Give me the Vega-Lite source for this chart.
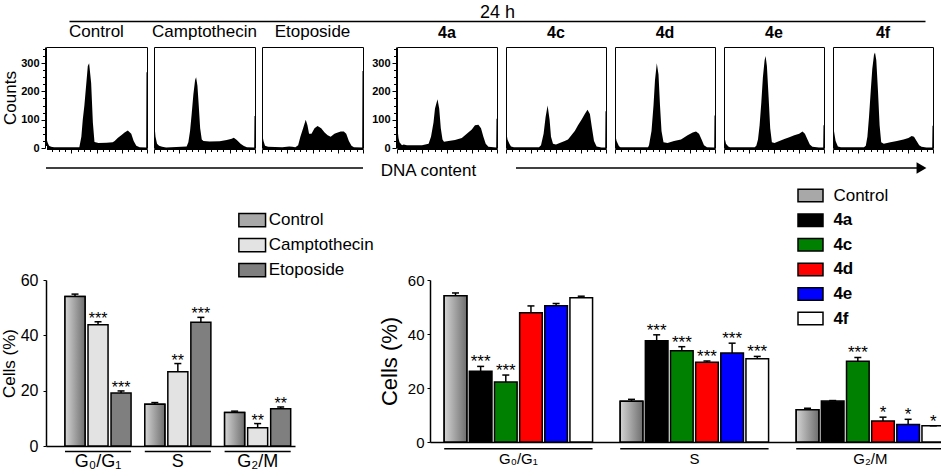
{
  "$schema": "https://vega.github.io/schema/vega-lite/v6.json",
  "background": "white",
  "padding": {"top": 3, "left": 0, "right": 0, "bottom": 0},
  "columns": 1,
  "align": "none",
  "spacing": -8,
  "resolve": {"scale": {"color": "independent", "xOffset": "independent", "x": "independent", "y": "independent"}, "legend": {"color": "independent"}},
  "config": {
    "font": "Liberation Sans",
    "view": {"stroke": null},
    "axis": {"grid": false, "labelColor": "black", "titleColor": "black", "domainColor": "black", "tickColor": "black"},
    "legend": {"labelColor": "black"},
    "text": {"color": "black"},
    "header": {"labelColor": "black"}
  },
  "datasets": {
    "hist": [
      {"p": "Control", "x": 0, "c": 40}, {"p": "Control", "x": 1.5, "c": 20}, {"p": "Control", "x": 3, "c": 8}, {"p": "Control", "x": 5, "c": 4}, {"p": "Control", "x": 8, "c": 3}, {"p": "Control", "x": 33, "c": 3}, {"p": "Control", "x": 35, "c": 40}, {"p": "Control", "x": 36.4, "c": 100}, {"p": "Control", "x": 38, "c": 150}, {"p": "Control", "x": 39.7, "c": 220}, {"p": "Control", "x": 41.4, "c": 290}, {"p": "Control", "x": 42.7, "c": 300}, {"p": "Control", "x": 44.7, "c": 230}, {"p": "Control", "x": 46.4, "c": 90}, {"p": "Control", "x": 48, "c": 21}, {"p": "Control", "x": 52, "c": 18}, {"p": "Control", "x": 60, "c": 19}, {"p": "Control", "x": 66, "c": 20}, {"p": "Control", "x": 68, "c": 25}, {"p": "Control", "x": 71, "c": 35}, {"p": "Control", "x": 74.5, "c": 45}, {"p": "Control", "x": 77.8, "c": 55}, {"p": "Control", "x": 81, "c": 62}, {"p": "Control", "x": 84.4, "c": 50}, {"p": "Control", "x": 86.8, "c": 25}, {"p": "Control", "x": 89.4, "c": 8}, {"p": "Control", "x": 92.7, "c": 3}, {"p": "Control", "x": 99.2, "c": 2}, {"p": "Control", "x": 99.5, "c": 268}, {"p": "Control", "x": 100, "c": 268},
      {"p": "Camptothecin", "x": 0, "c": 101}, {"p": "Camptothecin", "x": 1.5, "c": 40}, {"p": "Camptothecin", "x": 3, "c": 15}, {"p": "Camptothecin", "x": 5, "c": 8}, {"p": "Camptothecin", "x": 8, "c": 4}, {"p": "Camptothecin", "x": 12, "c": 2}, {"p": "Camptothecin", "x": 32.3, "c": 5}, {"p": "Camptothecin", "x": 34, "c": 20}, {"p": "Camptothecin", "x": 35.7, "c": 60}, {"p": "Camptothecin", "x": 37.3, "c": 120}, {"p": "Camptothecin", "x": 39, "c": 190}, {"p": "Camptothecin", "x": 40.7, "c": 240}, {"p": "Camptothecin", "x": 41.7, "c": 250}, {"p": "Camptothecin", "x": 43, "c": 220}, {"p": "Camptothecin", "x": 44.3, "c": 150}, {"p": "Camptothecin", "x": 45.7, "c": 70}, {"p": "Camptothecin", "x": 47.3, "c": 30}, {"p": "Camptothecin", "x": 49, "c": 25}, {"p": "Camptothecin", "x": 55, "c": 23}, {"p": "Camptothecin", "x": 65, "c": 24}, {"p": "Camptothecin", "x": 72, "c": 28}, {"p": "Camptothecin", "x": 77, "c": 33}, {"p": "Camptothecin", "x": 79, "c": 36}, {"p": "Camptothecin", "x": 82, "c": 28}, {"p": "Camptothecin", "x": 85.7, "c": 15}, {"p": "Camptothecin", "x": 89, "c": 7}, {"p": "Camptothecin", "x": 92, "c": 3}, {"p": "Camptothecin", "x": 99.2, "c": 2}, {"p": "Camptothecin", "x": 99.5, "c": 113}, {"p": "Camptothecin", "x": 100, "c": 113},
      {"p": "Etoposide", "x": 0, "c": 54}, {"p": "Etoposide", "x": 1.5, "c": 25}, {"p": "Etoposide", "x": 3, "c": 8}, {"p": "Etoposide", "x": 6, "c": 4}, {"p": "Etoposide", "x": 20, "c": 3}, {"p": "Etoposide", "x": 27, "c": 5}, {"p": "Etoposide", "x": 30, "c": 4}, {"p": "Etoposide", "x": 33, "c": 3}, {"p": "Etoposide", "x": 35.8, "c": 10}, {"p": "Etoposide", "x": 38, "c": 40}, {"p": "Etoposide", "x": 40.7, "c": 70}, {"p": "Etoposide", "x": 43.3, "c": 100}, {"p": "Etoposide", "x": 45, "c": 80}, {"p": "Etoposide", "x": 46.6, "c": 50}, {"p": "Etoposide", "x": 49, "c": 50}, {"p": "Etoposide", "x": 52, "c": 70}, {"p": "Etoposide", "x": 55, "c": 78}, {"p": "Etoposide", "x": 58.6, "c": 70}, {"p": "Etoposide", "x": 62, "c": 55}, {"p": "Etoposide", "x": 65, "c": 45}, {"p": "Etoposide", "x": 68, "c": 40}, {"p": "Etoposide", "x": 71.7, "c": 50}, {"p": "Etoposide", "x": 75, "c": 55}, {"p": "Etoposide", "x": 78, "c": 58}, {"p": "Etoposide", "x": 81, "c": 58}, {"p": "Etoposide", "x": 83.4, "c": 50}, {"p": "Etoposide", "x": 86, "c": 25}, {"p": "Etoposide", "x": 88.6, "c": 8}, {"p": "Etoposide", "x": 91, "c": 3}, {"p": "Etoposide", "x": 99.2, "c": 2}, {"p": "Etoposide", "x": 99.5, "c": 272}, {"p": "Etoposide", "x": 100, "c": 272},
      {"p": "4a", "x": 0, "c": 86}, {"p": "4a", "x": 1.5, "c": 35}, {"p": "4a", "x": 2.5, "c": 20}, {"p": "4a", "x": 5, "c": 10}, {"p": "4a", "x": 6.6, "c": 12}, {"p": "4a", "x": 10, "c": 10}, {"p": "4a", "x": 25, "c": 10}, {"p": "4a", "x": 31.6, "c": 15}, {"p": "4a", "x": 34, "c": 40}, {"p": "4a", "x": 36.5, "c": 90}, {"p": "4a", "x": 38, "c": 140}, {"p": "4a", "x": 40.5, "c": 172}, {"p": "4a", "x": 42.2, "c": 140}, {"p": "4a", "x": 43.8, "c": 70}, {"p": "4a", "x": 45.5, "c": 30}, {"p": "4a", "x": 47, "c": 22}, {"p": "4a", "x": 51.5, "c": 25}, {"p": "4a", "x": 58, "c": 28}, {"p": "4a", "x": 64.8, "c": 35}, {"p": "4a", "x": 69.8, "c": 50}, {"p": "4a", "x": 74.8, "c": 65}, {"p": "4a", "x": 78, "c": 80}, {"p": "4a", "x": 81.4, "c": 82}, {"p": "4a", "x": 84, "c": 70}, {"p": "4a", "x": 86.4, "c": 40}, {"p": "4a", "x": 88.7, "c": 15}, {"p": "4a", "x": 91.4, "c": 4}, {"p": "4a", "x": 99.2, "c": 2}, {"p": "4a", "x": 99.5, "c": 103}, {"p": "4a", "x": 100, "c": 103},
      {"p": "4c", "x": 0, "c": 62}, {"p": "4c", "x": 1.5, "c": 30}, {"p": "4c", "x": 3.4, "c": 15}, {"p": "4c", "x": 5, "c": 5}, {"p": "4c", "x": 8, "c": 3}, {"p": "4c", "x": 33, "c": 3}, {"p": "4c", "x": 35, "c": 10}, {"p": "4c", "x": 37.6, "c": 50}, {"p": "4c", "x": 39.6, "c": 110}, {"p": "4c", "x": 41.6, "c": 150}, {"p": "4c", "x": 43.6, "c": 100}, {"p": "4c", "x": 45, "c": 40}, {"p": "4c", "x": 47, "c": 15}, {"p": "4c", "x": 50, "c": 12}, {"p": "4c", "x": 53.7, "c": 18}, {"p": "4c", "x": 58.7, "c": 25}, {"p": "4c", "x": 62, "c": 30}, {"p": "4c", "x": 65.4, "c": 45}, {"p": "4c", "x": 68.8, "c": 60}, {"p": "4c", "x": 72, "c": 80}, {"p": "4c", "x": 75.5, "c": 100}, {"p": "4c", "x": 78.8, "c": 120}, {"p": "4c", "x": 81.5, "c": 135}, {"p": "4c", "x": 83.9, "c": 120}, {"p": "4c", "x": 86, "c": 70}, {"p": "4c", "x": 88, "c": 25}, {"p": "4c", "x": 90.6, "c": 5}, {"p": "4c", "x": 95.6, "c": 2}, {"p": "4c", "x": 99.2, "c": 2}, {"p": "4c", "x": 99.5, "c": 130}, {"p": "4c", "x": 100, "c": 130},
      {"p": "4d", "x": 0, "c": 50}, {"p": "4d", "x": 1.6, "c": 25}, {"p": "4d", "x": 4, "c": 6}, {"p": "4d", "x": 5.5, "c": 3}, {"p": "4d", "x": 33, "c": 3}, {"p": "4d", "x": 34, "c": 10}, {"p": "4d", "x": 36.5, "c": 60}, {"p": "4d", "x": 38.5, "c": 150}, {"p": "4d", "x": 40, "c": 240}, {"p": "4d", "x": 41.8, "c": 300}, {"p": "4d", "x": 43.5, "c": 260}, {"p": "4d", "x": 45, "c": 150}, {"p": "4d", "x": 46.5, "c": 60}, {"p": "4d", "x": 48.5, "c": 20}, {"p": "4d", "x": 52.5, "c": 18}, {"p": "4d", "x": 59, "c": 25}, {"p": "4d", "x": 66, "c": 30}, {"p": "4d", "x": 72.6, "c": 45}, {"p": "4d", "x": 77.7, "c": 55}, {"p": "4d", "x": 81, "c": 58}, {"p": "4d", "x": 84, "c": 50}, {"p": "4d", "x": 86.6, "c": 30}, {"p": "4d", "x": 89, "c": 10}, {"p": "4d", "x": 92, "c": 3}, {"p": "4d", "x": 99.2, "c": 2}, {"p": "4d", "x": 99.5, "c": 115}, {"p": "4d", "x": 100, "c": 115},
      {"p": "4e", "x": 0, "c": 45}, {"p": "4e", "x": 2, "c": 15}, {"p": "4e", "x": 4.3, "c": 5}, {"p": "4e", "x": 6, "c": 3}, {"p": "4e", "x": 30.7, "c": 3}, {"p": "4e", "x": 32.3, "c": 8}, {"p": "4e", "x": 34, "c": 30}, {"p": "4e", "x": 35.6, "c": 80}, {"p": "4e", "x": 37.3, "c": 160}, {"p": "4e", "x": 38.9, "c": 250}, {"p": "4e", "x": 40.6, "c": 310}, {"p": "4e", "x": 41.6, "c": 325}, {"p": "4e", "x": 42.9, "c": 290}, {"p": "4e", "x": 44.6, "c": 180}, {"p": "4e", "x": 46.2, "c": 70}, {"p": "4e", "x": 47.9, "c": 20}, {"p": "4e", "x": 50.5, "c": 18}, {"p": "4e", "x": 55.4, "c": 25}, {"p": "4e", "x": 60.4, "c": 32}, {"p": "4e", "x": 65.3, "c": 38}, {"p": "4e", "x": 70.3, "c": 45}, {"p": "4e", "x": 75.2, "c": 50}, {"p": "4e", "x": 78.5, "c": 58}, {"p": "4e", "x": 80.9, "c": 50}, {"p": "4e", "x": 83.5, "c": 30}, {"p": "4e", "x": 85.8, "c": 12}, {"p": "4e", "x": 88.4, "c": 4}, {"p": "4e", "x": 95, "c": 2}, {"p": "4e", "x": 99.2, "c": 2}, {"p": "4e", "x": 99.5, "c": 80}, {"p": "4e", "x": 100, "c": 80},
      {"p": "4f", "x": 0, "c": 81}, {"p": "4f", "x": 2.6, "c": 25}, {"p": "4f", "x": 4.9, "c": 5}, {"p": "4f", "x": 8, "c": 3}, {"p": "4f", "x": 31, "c": 3}, {"p": "4f", "x": 32.8, "c": 8}, {"p": "4f", "x": 34.4, "c": 40}, {"p": "4f", "x": 36, "c": 110}, {"p": "4f", "x": 37.7, "c": 200}, {"p": "4f", "x": 39.3, "c": 280}, {"p": "4f", "x": 41, "c": 330}, {"p": "4f", "x": 42, "c": 338}, {"p": "4f", "x": 43.3, "c": 310}, {"p": "4f", "x": 45, "c": 200}, {"p": "4f", "x": 46.6, "c": 80}, {"p": "4f", "x": 48.2, "c": 20}, {"p": "4f", "x": 50.8, "c": 15}, {"p": "4f", "x": 57.4, "c": 20}, {"p": "4f", "x": 63.9, "c": 25}, {"p": "4f", "x": 70.5, "c": 30}, {"p": "4f", "x": 75.4, "c": 35}, {"p": "4f", "x": 78.7, "c": 42}, {"p": "4f", "x": 81, "c": 40}, {"p": "4f", "x": 83.6, "c": 25}, {"p": "4f", "x": 86.2, "c": 10}, {"p": "4f", "x": 88.5, "c": 4}, {"p": "4f", "x": 93.4, "c": 2}, {"p": "4f", "x": 99.2, "c": 2}, {"p": "4f", "x": 99.5, "c": 79}, {"p": "4f", "x": 100, "c": 79}
    ],
    "left": [
      {"ph": "G₀/G₁", "t": "Control", "v": 54.0, "e": 54.9, "s": ""},
      {"ph": "G₀/G₁", "t": "Camptothecin", "v": 43.8, "e": 44.9, "s": "***"},
      {"ph": "G₀/G₁", "t": "Etoposide", "v": 19.2, "e": 19.9, "s": "***"},
      {"ph": "S", "t": "Control", "v": 15.1, "e": 15.7, "s": ""},
      {"ph": "S", "t": "Camptothecin", "v": 26.8, "e": 29.8, "s": "**"},
      {"ph": "S", "t": "Etoposide", "v": 44.7, "e": 46.5, "s": "***"},
      {"ph": "G₂/M", "t": "Control", "v": 12.1, "e": 12.6, "s": ""},
      {"ph": "G₂/M", "t": "Camptothecin", "v": 6.6, "e": 8.1, "s": "**"},
      {"ph": "G₂/M", "t": "Etoposide", "v": 13.5, "e": 14.1, "s": "**"}
    ],
    "right": [
      {"ph": "G₀/G₁", "t": "Control", "v": 54.2, "e": 55.2, "s": ""},
      {"ph": "G₀/G₁", "t": "4a", "v": 26.2, "e": 28.0, "s": "***"},
      {"ph": "G₀/G₁", "t": "4c", "v": 22.2, "e": 24.8, "s": "***"},
      {"ph": "G₀/G₁", "t": "4d", "v": 47.9, "e": 50.4, "s": ""},
      {"ph": "G₀/G₁", "t": "4e", "v": 50.5, "e": 51.3, "s": ""},
      {"ph": "G₀/G₁", "t": "4f", "v": 53.4, "e": 54.0, "s": ""},
      {"ph": "S", "t": "Control", "v": 15.1, "e": 15.8, "s": ""},
      {"ph": "S", "t": "4a", "v": 37.5, "e": 39.7, "s": "***"},
      {"ph": "S", "t": "4c", "v": 33.8, "e": 35.3, "s": "***"},
      {"ph": "S", "t": "4d", "v": 29.5, "e": 30.0, "s": "***"},
      {"ph": "S", "t": "4e", "v": 33.0, "e": 36.6, "s": "***"},
      {"ph": "S", "t": "4f", "v": 30.8, "e": 31.7, "s": "***"},
      {"ph": "G₂/M", "t": "Control", "v": 11.95, "e": 12.5, "s": ""},
      {"ph": "G₂/M", "t": "4a", "v": 15.15, "e": 15.35, "s": ""},
      {"ph": "G₂/M", "t": "4c", "v": 29.9, "e": 31.3, "s": "***"},
      {"ph": "G₂/M", "t": "4d", "v": 7.8, "e": 9.2, "s": "*"},
      {"ph": "G₂/M", "t": "4e", "v": 6.5, "e": 8.4, "s": "*"},
      {"ph": "G₂/M", "t": "4f", "v": 6.0, "e": 6.0, "s": "*"}
    ]
  },
  "concat": [
    {
      "spacing": 0,
      "hconcat": [
        {"width": 20, "height": 1, "data": {"values": [{}]}, "mark": {"type": "text", "text": ""}, "view": {"fill": "white", "stroke": null}},
        {
          "width": 856, "height": 1,
          "data": {"values": [{"v": 0}, {"v": 1}]},
          "mark": {"type": "point", "opacity": 0},
          "encoding": {
            "x": {"field": "v", "type": "quantitative", "scale": {"domain": [0, 1], "nice": false},
              "axis": {"orient": "top", "title": "24 h", "titleFontSize": 18, "titleFontWeight": "normal", "titlePadding": 0, "labels": false, "ticks": false, "domainWidth": 1.5}}
          }
        }
      ]
    },
    {"width": 1, "height": 10.5, "data": {"values": [{}]}, "mark": {"type": "text", "text": ""}, "view": {"fill": "white", "stroke": null}},
    {
      "spacing": 7,
      "hconcat": [
        {
          "data": {"name": "hist"},
          "transform": [{"filter": "indexof(['Control','Camptothecin','Etoposide'], datum.p) >= 0"}],
          "facet": {"column": {"field": "p", "type": "nominal", "sort": ["Control", "Camptothecin", "Etoposide"],
            "header": {"title": null, "labelFontSize": 17, "labelPadding": 5, "labelFontWeight": "normal"}}},
          "spacing": 5,
          "spec": {
            "width": 101, "height": 101,
            "view": {"stroke": "black", "strokeWidth": 1},
            "mark": {"type": "area", "color": "black", "interpolate": "linear"},
            "encoding": {
              "x": {"field": "x", "type": "quantitative", "scale": {"domain": [0, 100], "nice": false},
                "axis": {"title": null, "labels": false, "values": [0, 6.25, 12.5, 18.75, 25, 31.25, 37.5, 43.75, 50, 56.25, 62.5, 68.75, 75, 81.25, 87.5, 93.75, 100],
                  "tickSize": {"condition": {"test": "datum.value % 25 === 0", "value": 4}, "value": 2.5}}},
              "y": {"field": "c", "type": "quantitative", "stack": null, "scale": {"domain": [0, 357], "nice": false},
                "axis": {"title": "Counts", "titleFontSize": 17, "titleFontWeight": "normal", "titlePadding": 1,
                  "values": [0, 25, 50, 75, 100, 125, 150, 175, 200, 225, 250, 275, 300, 325, 350],
                  "labelExpr": "datum.value % 100 === 0 ? datum.label : ''", "labelFontSize": 11, "labelFontWeight": "bold", "labelPadding": 2,
                  "tickSize": {"condition": {"test": "datum.value % 100 === 0", "value": 4}, "value": 2.5}}}
            }
          }
        },
        {
          "data": {"name": "hist"},
          "transform": [{"filter": "indexof(['4a','4c','4d','4e','4f'], datum.p) >= 0"}],
          "facet": {"column": {"field": "p", "type": "nominal", "sort": ["4a", "4c", "4d", "4e", "4f"],
            "header": {"title": null, "labelFontSize": 16, "labelPadding": 5, "labelFontWeight": "bold"}}},
          "spacing": 7,
          "spec": {
            "width": 100, "height": 101,
            "view": {"stroke": "black", "strokeWidth": 1},
            "mark": {"type": "area", "color": "black", "interpolate": "linear"},
            "encoding": {
              "x": {"field": "x", "type": "quantitative", "scale": {"domain": [0, 100], "nice": false},
                "axis": {"title": null, "labels": false, "values": [0, 6.25, 12.5, 18.75, 25, 31.25, 37.5, 43.75, 50, 56.25, 62.5, 68.75, 75, 81.25, 87.5, 93.75, 100],
                  "tickSize": {"condition": {"test": "datum.value % 25 === 0", "value": 4}, "value": 2.5}}},
              "y": {"field": "c", "type": "quantitative", "stack": null, "scale": {"domain": [0, 357], "nice": false},
                "axis": {"title": null,
                  "values": [0, 25, 50, 75, 100, 125, 150, 175, 200, 225, 250, 275, 300, 325, 350],
                  "labelExpr": "datum.value % 100 === 0 ? datum.label : ''", "labelFontSize": 11, "labelFontWeight": "bold", "labelPadding": 2,
                  "tickSize": {"condition": {"test": "datum.value % 100 === 0", "value": 4}, "value": 2.5}}}
            }
          }
        }
      ]
    },
    {"width": 1, "height": 23, "data": {"values": [{}]}, "mark": {"type": "text", "text": ""}, "view": {"fill": "white", "stroke": null}},
    {
      "spacing": 0,
      "hconcat": [
        {
          "width": 317, "height": 1, "data": {"values": [{}]},
          "mark": {"type": "rule", "color": "black", "strokeWidth": 1.5},
          "encoding": {
            "x": {"datum": 0, "type": "quantitative", "scale": {"domain": [0, 1]}, "axis": null},
            "x2": {"datum": 1},
            "y": {"datum": 0, "type": "quantitative", "scale": {"domain": [0, 1]}, "axis": null}
          }
        },
        {
          "width": 151, "height": 1, "data": {"values": [{"t": "DNA content"}]},
          "mark": {"type": "text", "fontSize": 17, "dx": -11, "dy": 3, "baseline": "middle"},
          "encoding": {"text": {"field": "t"}}
        },
        {
          "width": 411, "height": 1, "data": {"values": [{}]},
          "layer": [
            {
              "mark": {"type": "rule", "color": "black", "strokeWidth": 1.5},
              "encoding": {
                "x": {"datum": 0, "type": "quantitative", "scale": {"domain": [0, 1]}, "axis": null},
                "x2": {"datum": 0.98},
                "y": {"datum": 0, "type": "quantitative", "scale": {"domain": [0, 1]}, "axis": null}
              }
            },
            {
              "mark": {"type": "point", "shape": "triangle-right", "filled": true, "color": "black", "size": 130, "opacity": 1, "xOffset": -5.5},
              "encoding": {
                "x": {"datum": 1, "type": "quantitative"},
                "y": {"datum": 0, "type": "quantitative"}
              }
            }
          ]
        }
      ]
    },
    {"width": 1, "height": 18.5, "data": {"values": [{}]}, "mark": {"type": "text", "text": ""}, "view": {"fill": "white", "stroke": null}},
    {
      "spacing": 4,
      "resolve": {"scale": {"color": "independent", "xOffset": "independent", "x": "independent", "y": "independent"}, "legend": {"color": "independent"}},
      "hconcat": [
        {
          "width": 249, "height": 166,
          "data": {"name": "left"},
          "encoding": {
            "x": {"field": "ph", "type": "nominal", "sort": ["G₀/G₁", "S", "G₂/M"],
              "scale": {"paddingInner": 0.172, "paddingOuter": 0.146, "align": 0.815},
              "axis": {"title": null, "labelAngle": 0, "labelFontSize": 18, "labelPadding": 6, "ticks": false, "tickSize": 0, "domainWidth": 1.5}}
          },
          "layer": [
            {
              "mark": {"type": "bar", "stroke": "black", "strokeWidth": 1.5},
              "encoding": {
                "xOffset": {"field": "t", "type": "nominal", "sort": ["Control", "Camptothecin", "Etoposide"], "scale": {"paddingInner": 0.13}},
                "y": {"field": "v", "type": "quantitative", "title": "Cells (%)", "scale": {"domain": [0, 60], "nice": false},
                  "axis": {"values": [0, 10, 20, 30, 40, 50, 60], "labelFontSize": 16, "labelPadding": 5, "tickSize": 3, "domainWidth": 1.5, "titleFontSize": 17, "titleFontWeight": "normal", "titlePadding": 2}},
                "color": {"field": "t", "type": "nominal", "sort": ["Control", "Camptothecin", "Etoposide"],
                  "scale": {"domain": ["Control", "Camptothecin", "Etoposide"], "range": ["#a8a8a8", "#e3e3e3", "#7f7f7f"]},
                  "legend": {"orient": "none", "legendX": 191.7, "legendY": -74.4, "title": null, "padding": 0,
                    "symbolType": "M-1,-0.5H1V0.5H-1Z", "symbolSize": 713, "symbolStrokeColor": "black", "symbolStrokeWidth": 1.5, "symbolOpacity": 1,
                    "labelFontSize": 17, "labelOffset": 2, "rowPadding": -3.8,
                    "encode": {"symbols": {"update": {
                      "fill": [
                        {"test": "datum.value === 'Control'", "value": {"gradient": "linear", "stops": [{"offset": 0, "color": "#d4d4d4"}, {"offset": 1, "color": "#6e6e6e"}]}},
                        {"test": "datum.value === 'Camptothecin'", "value": "#e3e3e3"},
                        {"value": "#7f7f7f"}
                      ],
                      "stroke": {"value": "black"}, "strokeWidth": {"value": 1.5}}}}}}
              }
            },
            {
              "transform": [{"filter": "datum.t === 'Control'"}],
              "mark": {"type": "bar", "stroke": "black", "strokeWidth": 1.5,
                "fill": {"gradient": "linear", "stops": [{"offset": 0, "color": "#d4d4d4"}, {"offset": 1, "color": "#6e6e6e"}]}},
              "encoding": {
                "xOffset": {"field": "t", "type": "nominal", "sort": ["Control", "Camptothecin", "Etoposide"]},
                "y": {"field": "v", "type": "quantitative", "title": "Cells (%)"}
              }
            },
            {
              "mark": {"type": "rule", "color": "black", "strokeWidth": 1.5},
              "encoding": {
                "xOffset": {"field": "t", "type": "nominal", "sort": ["Control", "Camptothecin", "Etoposide"]},
                "y": {"field": "v", "type": "quantitative", "title": "Cells (%)"},
                "y2": {"field": "e"}
              }
            },
            {
              "mark": {"type": "tick", "orient": "horizontal", "color": "black", "size": 7, "thickness": 1.5, "opacity": 1},
              "encoding": {
                "xOffset": {"field": "t", "type": "nominal", "sort": ["Control", "Camptothecin", "Etoposide"]},
                "y": {"field": "e", "type": "quantitative", "title": "Cells (%)"}
              }
            },
            {
              "mark": {"type": "text", "fontSize": 16, "baseline": "alphabetic", "dy": 2},
              "encoding": {
                "xOffset": {"field": "t", "type": "nominal", "sort": ["Control", "Camptothecin", "Etoposide"]},
                "y": {"field": "e", "type": "quantitative", "title": "Cells (%)"},
                "text": {"field": "s"}
              }
            },
            {
              "transform": [{"filter": "datum.t === 'Control'"}],
              "mark": {"type": "bar", "color": "black"},
              "encoding": {
                "y": {"datum": -1.75, "type": "quantitative"},
                "y2": {"datum": -2.3}
              }
            }
          ]
        },
        {
          "width": 514.6, "height": 162,
          "data": {"name": "right"},
          "encoding": {
            "x": {"field": "ph", "type": "nominal", "sort": ["G₀/G₁", "S", "G₂/M"],
              "scale": {"paddingInner": 0.157, "paddingOuter": 0.0403, "align": 1},
              "axis": {"title": null, "labelAngle": 0, "labelFontSize": 15, "labelPadding": 9, "ticks": false, "tickSize": 0, "domainWidth": 1.5}}
          },
          "layer": [
            {
              "mark": {"type": "bar", "stroke": "black", "strokeWidth": 1.5},
              "encoding": {
                "xOffset": {"field": "t", "type": "nominal", "sort": ["Control", "4a", "4c", "4d", "4e", "4f"], "scale": {"paddingInner": 0.1}},
                "y": {"field": "v", "type": "quantitative", "title": "Cells (%)", "scale": {"domain": [0, 60], "nice": false},
                  "axis": {"values": [0, 10, 20, 30, 40, 50, 60], "labelFontSize": 15, "labelPadding": 3, "tickSize": 3, "domainWidth": 1.5, "titleFontSize": 22, "titleFontWeight": "normal", "titlePadding": 6}},
                "color": {"field": "t", "type": "nominal", "sort": ["Control", "4a", "4c", "4d", "4e", "4f"],
                  "scale": {"domain": ["Control", "4a", "4c", "4d", "4e", "4f"], "range": ["#a8a8a8", "#000000", "#008000", "#ff0000", "#0000ff", "#ffffff"]},
                  "legend": {"orient": "none", "legendX": 367, "legendY": -97.9, "title": null, "padding": 0,
                    "symbolType": "M-1,-0.5H1V0.5H-1Z", "symbolSize": 625, "symbolStrokeColor": "black", "symbolStrokeWidth": 1.5, "symbolOpacity": 1,
                    "labelFontSize": 17, "labelOffset": 9.4, "rowPadding": 1.6,
                    "encode": {
                      "symbols": {"update": {
                        "fill": [
                          {"test": "datum.value === 'Control'", "value": {"gradient": "linear", "stops": [{"offset": 0, "color": "#d4d4d4"}, {"offset": 1, "color": "#6e6e6e"}]}},
                          {"test": "datum.value === '4a'", "value": "#000000"},
                          {"test": "datum.value === '4c'", "value": "#008000"},
                          {"test": "datum.value === '4d'", "value": "#ff0000"},
                          {"test": "datum.value === '4e'", "value": "#0000ff"},
                          {"value": "#ffffff"}
                        ],
                        "stroke": {"value": "black"}, "strokeWidth": {"value": 1.5}}},
                      "labels": {"update": {"fontWeight": {"signal": "datum.value === 'Control' ? 'normal' : 'bold'"}}}
                    }}}
              }
            },
            {
              "transform": [{"filter": "datum.t === 'Control'"}],
              "mark": {"type": "bar", "stroke": "black", "strokeWidth": 1.5,
                "fill": {"gradient": "linear", "stops": [{"offset": 0, "color": "#d4d4d4"}, {"offset": 1, "color": "#6e6e6e"}]}},
              "encoding": {
                "xOffset": {"field": "t", "type": "nominal", "sort": ["Control", "4a", "4c", "4d", "4e", "4f"]},
                "y": {"field": "v", "type": "quantitative", "title": "Cells (%)"}
              }
            },
            {
              "mark": {"type": "rule", "color": "black", "strokeWidth": 1.5},
              "encoding": {
                "xOffset": {"field": "t", "type": "nominal", "sort": ["Control", "4a", "4c", "4d", "4e", "4f"]},
                "y": {"field": "v", "type": "quantitative", "title": "Cells (%)"},
                "y2": {"field": "e"}
              }
            },
            {
              "mark": {"type": "tick", "orient": "horizontal", "color": "black", "size": 7, "thickness": 1.5, "opacity": 1},
              "encoding": {
                "xOffset": {"field": "t", "type": "nominal", "sort": ["Control", "4a", "4c", "4d", "4e", "4f"]},
                "y": {"field": "e", "type": "quantitative", "title": "Cells (%)"}
              }
            },
            {
              "mark": {"type": "text", "fontSize": 17, "baseline": "alphabetic", "dy": 1},
              "encoding": {
                "xOffset": {"field": "t", "type": "nominal", "sort": ["Control", "4a", "4c", "4d", "4e", "4f"]},
                "y": {"field": "e", "type": "quantitative", "title": "Cells (%)"},
                "text": {"field": "s"}
              }
            },
            {
              "transform": [{"filter": "datum.t === 'Control'"}],
              "mark": {"type": "bar", "color": "black"},
              "encoding": {
                "y": {"datum": -2.2, "type": "quantitative"},
                "y2": {"datum": -2.8}
              }
            }
          ]
        }
      ]
    }
  ]
}
